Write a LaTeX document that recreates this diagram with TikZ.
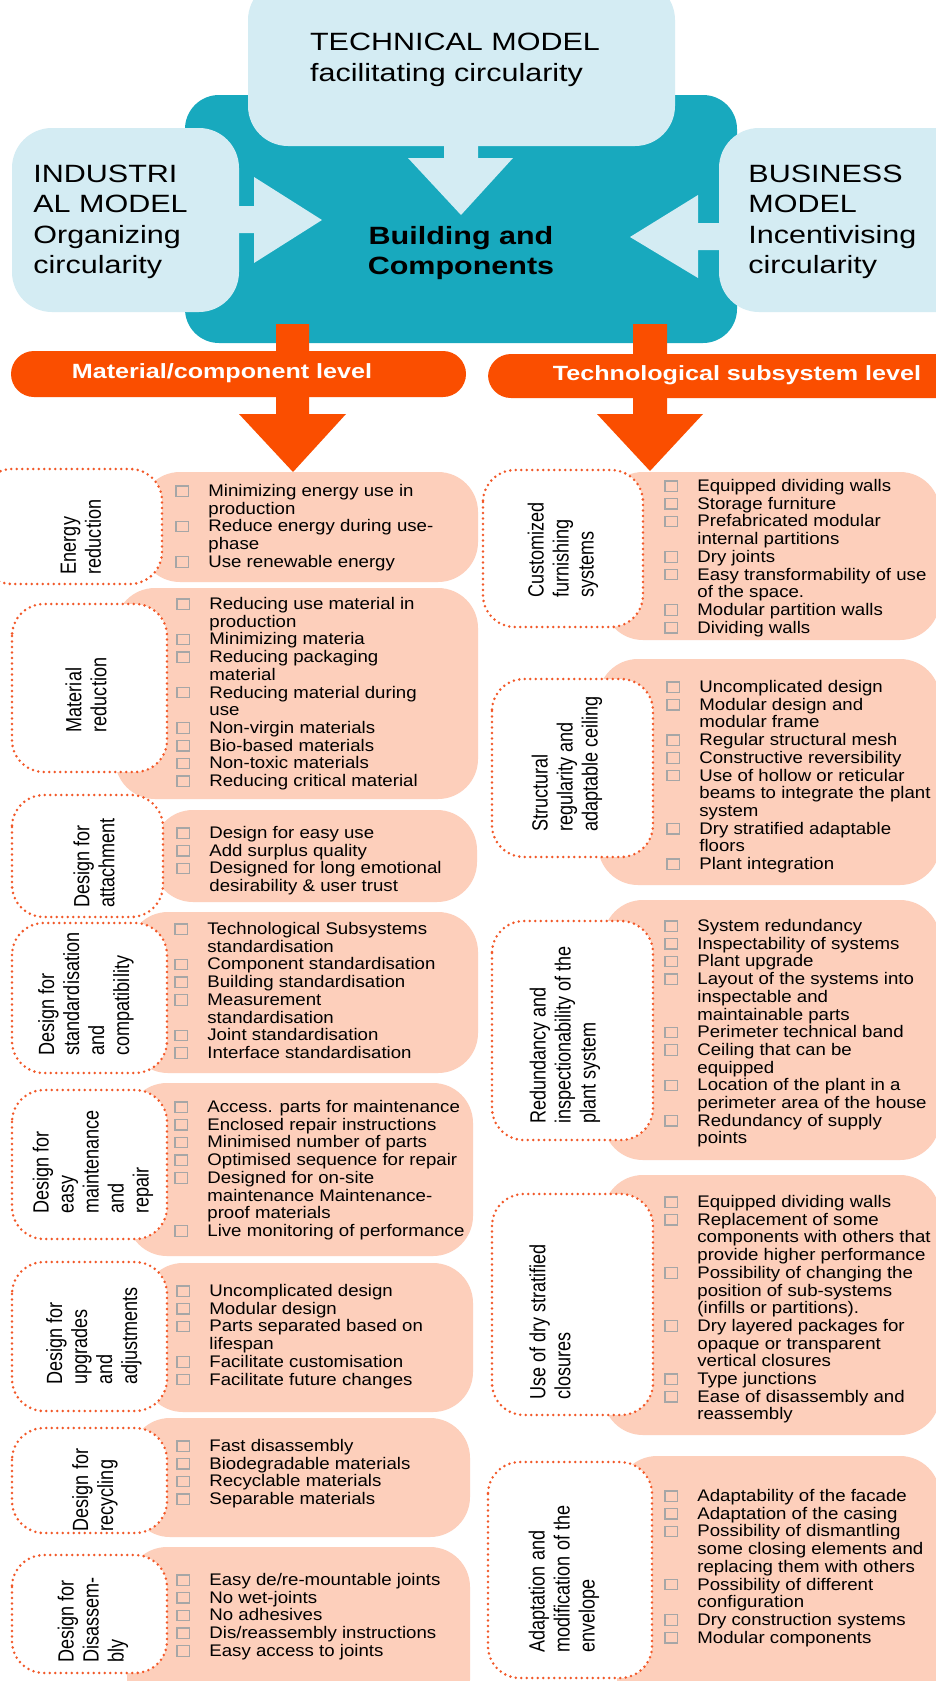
\documentclass[tikz,border=0pt]{standalone}
\usepackage{fontspec}
\setmainfont{Liberation Sans}
\newfontfamily\headfont[FakeStretch=1.22]{Liberation Sans}
\newfontfamily\listfont[FakeStretch=1.11]{Liberation Sans}
\newfontfamily\critfont[FakeStretch=0.82]{Liberation Sans}

\definecolor{tealc}{RGB}{24,169,190}
\definecolor{lightb}{RGB}{212,236,243}
\definecolor{levelc}{RGB}{250,78,0}
\definecolor{peachc}{RGB}{253,207,187}
\definecolor{dotc}{RGB}{242,88,40}

\newcommand{\cbox}{\raisebox{0.4pt}{\color{gray!70}\fboxsep=0pt\fboxrule=0.6pt\fbox{\rule{0pt}{4.6pt}\rule{5.6pt}{0pt}}}}
\newcommand{\chk}{\makebox[16.5pt][l]{\cbox}}
\newcommand{\rient}{\hspace*{16.5pt}}

\begin{document}
\begin{tikzpicture}[
    x=0.5pt, y=-0.5pt,
    model/.style={fill=lightb, rounded corners=20pt},
    core/.style={fill=tealc, rounded corners=17pt},
    levelbar/.style={fill=levelc, rounded corners=11.5pt},
    panel/.style={fill=peachc, rounded corners=20pt},
    critbox/.style={
        draw=dotc,
        fill=white,
        line width=1.4pt,
        line cap=round,
        dash pattern=on 0pt off 2.75pt,
        rounded corners=16pt
    },
    headtext/.style={inner sep=0pt, align=left, font=\headfont\fontsize{12.5}{15.2}\selectfont},
    leveltext/.style={inner sep=0pt, text=white, font=\headfont\bfseries\fontsize{10.3}{12}\selectfont},
    itemlist/.style={inner sep=0pt, anchor=north west, align=left, font=\listfont\fontsize{8.4}{8.85}\selectfont},
    crit/.style={inner sep=0pt, rotate=90, align=left, font=\critfont\fontsize{11}{12.5}\selectfont}
]

\fill[white] (0,0) rectangle (936,1681);
\useasboundingbox (0,0) rectangle (936,1681);

% Blocco centrale e modelli
\fill[core] (185,95) rectangle (737,343);
\fill[model] (248,-20) rectangle (675,146);
\fill[model] (12,128) rectangle (239,312);
\fill[model] (719,128) rectangle (980,312);

% Frecce verso il centro
\fill[lightb] (444,140) -- (478,140) -- (478,158) -- (513,158) -- (461,215) -- (408,158) -- (444,158) -- cycle;
\fill[lightb] (232,206) -- (254,206) -- (254,177) -- (322,220) -- (254,263) -- (254,233) -- (232,233) -- cycle;
\fill[lightb] (726,223) -- (698,223) -- (698,195) -- (630,237) -- (698,278) -- (698,250) -- (726,250) -- cycle;

\node[headtext] (tech) at (455,60) {TECHNICAL MODEL\\facilitating circularity};
\node[headtext, anchor=west] (indus) at (33,222) {INDUSTRI\\AL MODEL\\Organizing\\circularity};
\node[headtext, anchor=west] (busin) at (748,222) {BUSINESS\\MODEL\\Incentivising\\circularity};
\node[headtext, align=center, font=\headfont\bfseries\fontsize{12.5}{15.2}\selectfont] (bc) at (461,253) {Building and\\Components};

% Livelli
\fill[levelbar] (11,351) rectangle (466,397);
\fill[levelbar] (488,354) rectangle (960,398);
\fill[levelc] (276,324) -- (309,324) -- (309,414) -- (346,414) -- (293,472) -- (239,414) -- (276,414) -- cycle;
\fill[levelc] (633,324) -- (667,324) -- (667,414) -- (703,414) -- (650,471) -- (597,414) -- (633,414) -- cycle;
\node[leveltext] (matlev) at (222,373) {Material/component level};
\node[leveltext] (teclev) at (737,375) {Technological subsystem level};

% Pannelli - colonna sinistra
\fill[panel] (140,472) rectangle (478,582);
\fill[panel] (115,588) rectangle (478,799);
\fill[panel] (153,810) rectangle (477,902);
\fill[panel] (128,912) rectangle (478,1073);
\fill[panel] (127,1083) rectangle (473,1256);
\fill[panel] (143,1263) rectangle (473,1412);
\fill[panel] (130,1418) rectangle (470,1537);
\fill[panel] (127,1547) rectangle (470,1720);

% Pannelli - colonna destra
\fill[panel] (603,472) rectangle (940,640);
\fill[panel] (598,659) rectangle (940,885);
\fill[panel] (603,900) rectangle (940,1160);
\fill[panel] (603,1175) rectangle (940,1435);
\fill[panel] (617,1456) rectangle (940,1720);

% Riquadri tratteggiati
\draw[critbox] (-20,469) rectangle (162,584);
\draw[critbox] (12,604) rectangle (167,772);
\draw[critbox] (12,795) rectangle (163,917);
\draw[critbox] (12,923) rectangle (167,1073);
\draw[critbox] (12,1090) rectangle (167,1239);
\draw[critbox] (12,1262) rectangle (167,1411);
\draw[critbox] (12,1428) rectangle (167,1533);
\draw[critbox] (12,1555) rectangle (167,1673);
\draw[critbox] (483,470) rectangle (643,627);
\draw[critbox] (492,679) rectangle (653,857);
\draw[critbox] (492,921) rectangle (653,1140);
\draw[critbox] (492,1194) rectangle (653,1415);
\draw[critbox] (488,1462) rectangle (652,1678);

% Criteri (testo ruotato)
\node[crit] (cer) at (81,537) {Energy\\reduction};
\node[crit] (cmr) at (86,695) {Material\\reduction};
\node[crit] (cat) at (94,863) {Design for\\attachment};
\node[crit] (cst) at (86,994) {Design for\\standardisation\\and\\compatibility};
\node[crit] (cma) at (93,1162) {Design for\\easy\\maintenance\\and\\repair};
\node[crit] (cup) at (94,1336) {Design for\\upgrades\\and\\adjustments};
\node[crit] (cre) at (95,1490) {Design for\\recycling};
\node[crit] (cdi) at (93,1620) {Design for\\Disassem-\\bly};
\node[crit] (cfu) at (563,550) {Customized\\furnishing\\systems};
\node[crit] (cso) at (567,764) {Structural\\regularity and\\adaptable ceiling};
\node[crit] (cin) at (565,1035) {Redundancy and\\inspectionability of the\\plant system};
\node[crit] (ccl) at (550,1322) {Use of dry stratified\\closures};
\node[crit] (cen) at (564,1579) {Adaptation and\\modification of the\\envelope};

% Liste - colonna sinistra
\node[itemlist] (ler) at (175,484) {\chk Minimizing energy use in\\\rient production\\\chk Reduce energy during use-\\\rient phase\\\chk Use renewable energy};
\node[itemlist] (lmr) at (176,597) {\chk Reducing use material in\\\rient production\\\chk Minimizing materia\\\chk Reducing packaging\\\rient material\\\chk Reducing material during\\\rient use\\\chk Non-virgin materials\\\chk Bio-based materials\\\chk Non-toxic materials\\\chk Reducing critical material};
\node[itemlist] (lat) at (176,826) {\chk Design for easy use\\\chk Add surplus quality\\\chk Designed for long emotional\\\rient desirability \& user trust};
\node[itemlist] (lst) at (174,922) {\chk Technological Subsystems\\\rient standardisation\\\chk Component standardisation\\\chk Building standardisation\\\chk Measurement\\\rient standardisation\\\chk Joint standardisation\\\chk Interface standardisation};
\node[itemlist] (lma) at (174,1100) {\chk Access. parts for maintenance\\\chk Enclosed repair instructions\\\chk Minimised number of parts\\\chk Optimised sequence for repair\\\chk Designed for on-site\\\rient maintenance Maintenance-\\\rient proof materials\\\chk Live monitoring of performance};
\node[itemlist] (lup) at (176,1284) {\chk Uncomplicated design\\\chk Modular design\\\chk Parts separated based on\\\rient lifespan\\\chk Facilitate customisation\\\chk Facilitate future changes};
\node[itemlist] (lre) at (176,1439) {\chk Fast disassembly\\\chk Biodegradable materials\\\chk Recyclable materials\\\chk Separable materials};
\node[itemlist] (ldi) at (176,1573) {\chk Easy de/re-mountable joints\\\chk No wet-joints\\\chk No adhesives\\\chk Dis/reassembly instructions\\\chk Easy access to joints};

% Liste - colonna destra
\node[itemlist] (lfu) at (664,479) {\chk Equipped dividing walls\\\chk Storage furniture\\\chk Prefabricated modular\\\rient internal partitions\\\chk Dry joints\\\chk Easy transformability of use\\\rient of the space.\\\chk Modular partition walls\\\chk Dividing walls};
\node[itemlist] (lso) at (666,680) {\chk Uncomplicated design\\\chk Modular design and\\\rient modular frame\\\chk Regular structural mesh\\\chk Constructive reversibility\\\chk Use of hollow or reticular\\\rient beams to integrate the plant\\\rient system\\\chk Dry stratified adaptable\\\rient floors\\\chk Plant integration};
\node[itemlist] (lin) at (664,919) {\chk System redundancy\\\chk Inspectability of systems\\\chk Plant upgrade\\\chk Layout of the systems into\\\rient inspectable and\\\rient maintainable parts\\\chk Perimeter technical band\\\chk Ceiling that can be\\\rient equipped\\\chk Location of the plant in a\\\rient perimeter area of the house\\\chk Redundancy of supply\\\rient points};
\node[itemlist] (lcl) at (664,1195) {\chk Equipped dividing walls\\\chk Replacement of some\\\rient components with others that\\\rient provide higher performance\\\chk Possibility of changing the\\\rient position of sub-systems\\\rient (infills or partitions).\\\chk Dry layered packages for\\\rient opaque or transparent\\\rient vertical closures\\\chk Type junctions\\\chk Ease of disassembly and\\\rient reassembly};
\node[itemlist] (len) at (664,1489) {\chk Adaptability of the facade\\\chk Adaptation of the casing\\\chk Possibility of dismantling\\\rient some closing elements and\\\rient replacing them with others\\\chk Possibility of different\\\rient configuration\\\chk Dry construction systems\\\chk Modular components};

\end{tikzpicture}
\end{document}
